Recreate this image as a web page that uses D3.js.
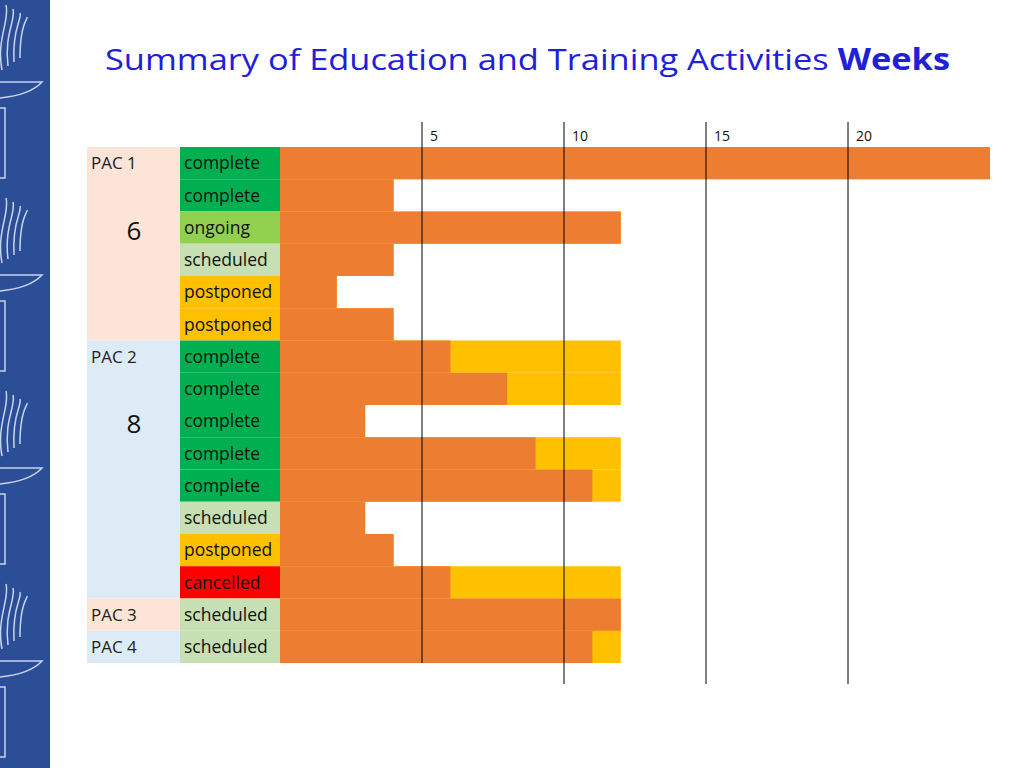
<!DOCTYPE html>
<html><head><meta charset="utf-8">
<script src="https://cdn.jsdelivr.net/npm/d3@7"></script>
<style>body{margin:0;background:#fff}svg{display:block}</style>
</head><body><svg id="c" width="1024" height="768"></svg>
<script>
const statuses = ["complete","complete","ongoing","scheduled","postponed","postponed","complete","complete","complete","complete","complete","scheduled","postponed","cancelled","scheduled","scheduled"];
const doneWeeks = [25,4,12,4,2,4,6,8,3,9,11,3,4,6,12,11];
const plannedWeeks = [25,4,12,4,2,4,12,12,3,12,12,3,4,12,12,12];
const groups = [{name:"PAC 1",count:"6",start:0,n:6,color:"#fce4d6"},{name:"PAC 2",count:"8",start:6,n:8,color:"#ddebf7"},{name:"PAC 3",count:"",start:14,n:1,color:"#fce4d6"},{name:"PAC 4",count:"",start:15,n:1,color:"#ddebf7"}];
const tickValues = [5,10,15,20];
const statusColor = {complete:"#00b050",ongoing:"#92d050",scheduled:"#c6e0b4",postponed:"#ffc000",cancelled:"#ff0000"};

const svg = d3.select("#c");
const font = "'Open Sans', sans-serif";
svg.append("rect").attr("x",0).attr("y",0).attr("width",50).attr("height",768).attr("fill","#2b4e96");
for (let k=0;k<4;k++){
  const g = svg.append("g").attr("transform",`translate(0,${k*193})`).attr("fill","none").attr("stroke","#c8d4ee").attr("stroke-width",1.5);
  for (let j=0;j<4;j++) g.append("path").attr("d",`M${2+j*6},${70-j*4} C${-4+j*8},${40-j*6} ${10+j*6},${20} ${6+j*7},${5+j*4}`);
  g.append("path").attr("d","M0,82 L42,82 Q30,95 0,98");
  g.append("rect").attr("x",-2).attr("y",108).attr("width",7).attr("height",70);
}
const t = svg.append("text").attr("x",105).attr("y",70).attr("font-family",font).attr("font-size",30).attr("fill","#2020d8")
  .attr("textLength",845).attr("lengthAdjust","spacingAndGlyphs");
t.append("tspan").text("Summary of Education and Training Activities ");
t.append("tspan").attr("font-weight","bold").text("Weeks");

const x = d3.scaleLinear().domain([0,25]).range([280,990]);
const y = d3.scaleBand().domain(d3.range(16)).range([147,663]).padding(0);
groups.forEach(gr=>{
  const y0=y(gr.start), h=y.bandwidth()*gr.n;
  svg.append("rect").attr("x",87).attr("y",y0).attr("width",93).attr("height",h).attr("fill",gr.color);
  svg.append("text").attr("x",91).attr("y",y0+y.bandwidth()/2).attr("dy","0.35em").attr("font-family",font).attr("font-size",17).attr("fill","#222").text(gr.name);
  if (gr.count) svg.append("text").attr("x",134).attr("y",y0+y.bandwidth()*2.6).attr("dy","0.35em").attr("text-anchor","middle").attr("font-family",font).attr("font-size",26).attr("fill","#111").text(gr.count);
});
statuses.forEach((s,i)=>{
  svg.append("rect").attr("x",180).attr("y",y(i)).attr("width",100).attr("height",y.bandwidth()).attr("fill",statusColor[s]);
  svg.append("text").attr("x",184).attr("y",y(i)+y.bandwidth()/2).attr("dy","0.35em").attr("font-family",font).attr("font-size",17.5).attr("fill","#111").text(s);
});
svg.selectAll(".pl").data(plannedWeeks).join("rect").attr("x",x(0)).attr("y",(d,i)=>y(i)).attr("width",d=>x(d)-x(0)).attr("height",y.bandwidth()).attr("fill","#ffc000");
svg.selectAll(".dn").data(doneWeeks).join("rect").attr("x",x(0)).attr("y",(d,i)=>y(i)).attr("width",d=>x(d)-x(0)).attr("height",y.bandwidth()).attr("fill","#ed7d31");
tickValues.forEach(v=>{
  svg.append("line").attr("x1",x(v)).attr("x2",x(v)).attr("y1",122).attr("y2",v===5?663:684).attr("stroke","#000").attr("stroke-width",1);
  svg.append("text").attr("x",x(v)+8).attr("y",141).attr("font-family",font).attr("font-size",14).attr("fill","#111").text(v);
});
</script></body></html>
